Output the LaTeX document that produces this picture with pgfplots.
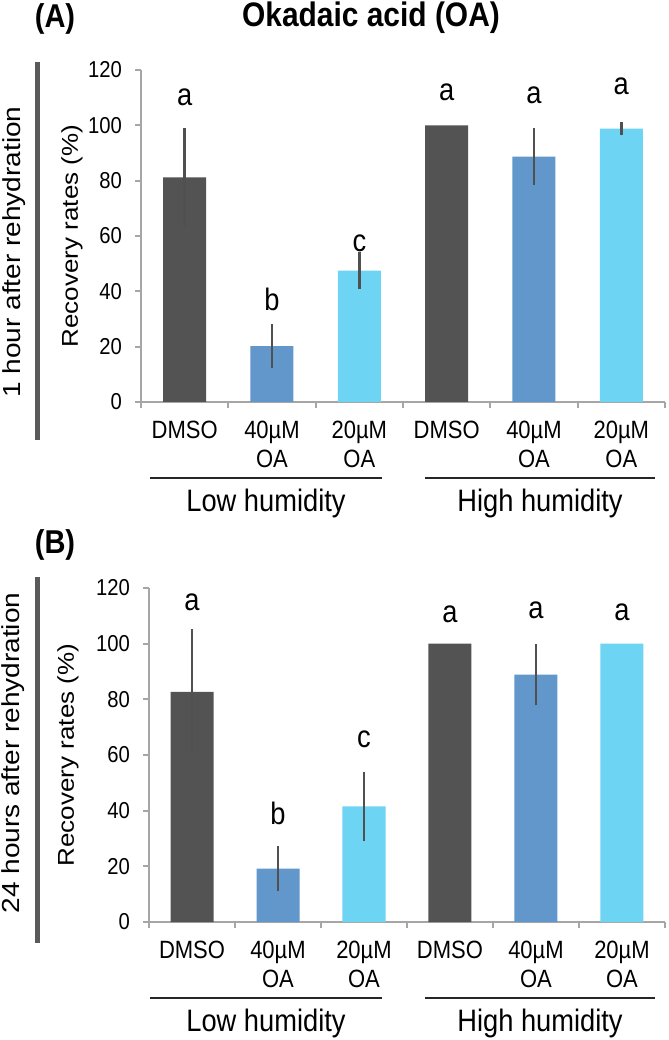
\documentclass[border=0pt]{standalone}
\usepackage{fontspec}
\setmainfont{Liberation Sans}[FakeStretch=0.88]
\newfontfamily\rotfont{Liberation Sans}
\usepackage{pgfplots}
\usepackage{pgfplotstable}
\pgfplotsset{compat=1.18}
\definecolor{cdark}{HTML}{535353}
\definecolor{cblue}{HTML}{6197CB}
\definecolor{clight}{HTML}{6DD4F4}
\definecolor{cerr}{HTML}{505050}
\definecolor{caxis}{HTML}{A6A6A6}
\definecolor{cside}{HTML}{5A5A5A}

\pgfplotstableread{
x y e
0 81.2 17.7
3 100 0
}\Adark
\pgfplotstableread{
x y e
1 20.2 7.9
4 88.7 10.3
}\Ablue
\pgfplotstableread{
x y e
2 47.5 6.6
5 98.8 2.4
}\Alight
\pgfplotstableread{
x y e
0 82.7 22.5
3 100 0
}\Bdark
\pgfplotstableread{
x y e
1 19.2 8.0
4 88.9 11.0
}\Bblue
\pgfplotstableread{
x y e
2 41.5 12.4
5 100 0
}\Blight

\pgfplotsset{
 panel/.style={
  scale only axis, xmin=-0.5, xmax=5.5, ymin=0, ymax=120,
  axis x line*=bottom, axis y line*=left,
  axis line style={caxis, line width=0.9pt, -},
  ytick={0,20,...,120},
  xtick={-0.5,0.5,1.5,2.5,3.5,4.5,5.5}, xticklabels={},
  extra x ticks={0,1,2,3,4,5},
  extra x tick labels={DMSO,{40µM\\OA},{20µM\\OA},DMSO,{40µM\\OA},{20µM\\OA}},
  extra x tick style={major tick length=0pt, tick label style={font=\fontsize{12.5}{14.5}\selectfont, align=center, anchor=north, yshift=-6pt}},
  tick style={caxis, line width=0.9pt},
  major tick length=3pt,
  tick align=outside,
  yticklabel style={font=\fontsize{11.5}{13}\selectfont, xshift=-3pt},
  /pgf/number format/assume math mode=true,
  ybar, bar width=21.5pt, bar shift=0pt,
  clip=false,
 },
 errbar/.style={error bars/.cd, y dir=both, y explicit, error mark=none, error bar style={cerr, line width=1.3pt}},
}
\tikzset{lett/.style={font=\fontsize{15.5}{17}\selectfont}}

\begin{document}
\begin{tikzpicture}
\useasboundingbox (0,0) rectangle (334.5pt,520pt);

% Panel A
\begin{axis}[panel, at={(70.5pt,319pt)}, anchor=south west, width=262pt, height=166pt]
\addplot[fill=cdark, draw=none, errbar] table[x=x, y=y, y error=e] {\Adark};
\addplot[fill=cblue, draw=none, errbar] table[x=x, y=y, y error=e] {\Ablue};
\addplot[fill=clight, draw=none, errbar] table[x=x, y=y, y error=e] {\Alight};
\node[lett] at (axis cs:0,110) {a};
\node[lett] at (axis cs:1,37) {b};
\node[lett] at (axis cs:2,57.5) {c};
\node[lett] at (axis cs:3,112) {a};
\node[lett] at (axis cs:4,111) {a};
\node[lett] at (axis cs:5,114) {a};
\end{axis}

% Panel B
\begin{axis}[panel, at={(74.5pt,59pt)}, anchor=south west, width=258pt, height=167pt]
\addplot[fill=cdark, draw=none, errbar] table[x=x, y=y, y error=e] {\Bdark};
\addplot[fill=cblue, draw=none, errbar] table[x=x, y=y, y error=e] {\Bblue};
\addplot[fill=clight, draw=none, errbar] table[x=x, y=y, y error=e] {\Blight};
\node[lett] at (axis cs:0,115) {a};
\node[lett] at (axis cs:1,39) {b};
\node[lett] at (axis cs:2,65.7) {c};
\node[lett] at (axis cs:3,110.4) {a};
\node[lett] at (axis cs:4,112) {a};
\node[lett] at (axis cs:5,111.4) {a};
\end{axis}

\begin{scope}[x=0.5pt, y=-0.5pt, shift={(0pt,520pt)}]
% side bars
\fill[cside] (34.5,62) rectangle (39.5,440);
\fill[cside] (34.5,577) rectangle (39.5,943);
% outer labels
\node[rotate=90, font=\rotfont\fontsize{14}{16}\selectfont] at (14,252) {\scalebox{1}[0.88]{1 hour after rehydration}};
\node[rotate=90, font=\rotfont\fontsize{14}{16}\selectfont] at (13,753) {\scalebox{1}[0.88]{24 hours after rehydration}};
% axis labels
\node[rotate=90, font=\rotfont\fontsize{13}{15}\selectfont] at (72,236) {\scalebox{1}[0.88]{Recovery rates (\%)}};
\node[rotate=90, font=\rotfont\fontsize{13}{15}\selectfont] at (68,755) {\scalebox{1}[0.88]{Recovery rates (\%)}};
% group lines
\draw[line width=1.2pt, black!85] (150,478) -- (382,478);
\draw[line width=1.2pt, black!85] (425,478) -- (655,478);
\draw[line width=1.2pt, black!85] (150,998) -- (382,998);
\draw[line width=1.2pt, black!85] (425,998) -- (655,998);
% group labels
\node[font=\fontsize{15.5}{17}\selectfont] at (266,503) {Low humidity};
\node[font=\fontsize{15.5}{17}\selectfont] at (540,503) {High humidity};
\node[font=\fontsize{15.5}{17}\selectfont] at (266,1023) {Low humidity};
\node[font=\fontsize{15.5}{17}\selectfont] at (540,1023) {High humidity};
% titles
\node[font=\bfseries\fontsize{17}{19}\selectfont] at (371,18) {Okadaic acid (OA)};
\node[font=\bfseries\fontsize{16.5}{18}\selectfont] at (55,19) {(A)};
\node[font=\bfseries\fontsize{16.5}{18}\selectfont] at (55,545) {(B)};
\end{scope}
\end{tikzpicture}
\end{document}
